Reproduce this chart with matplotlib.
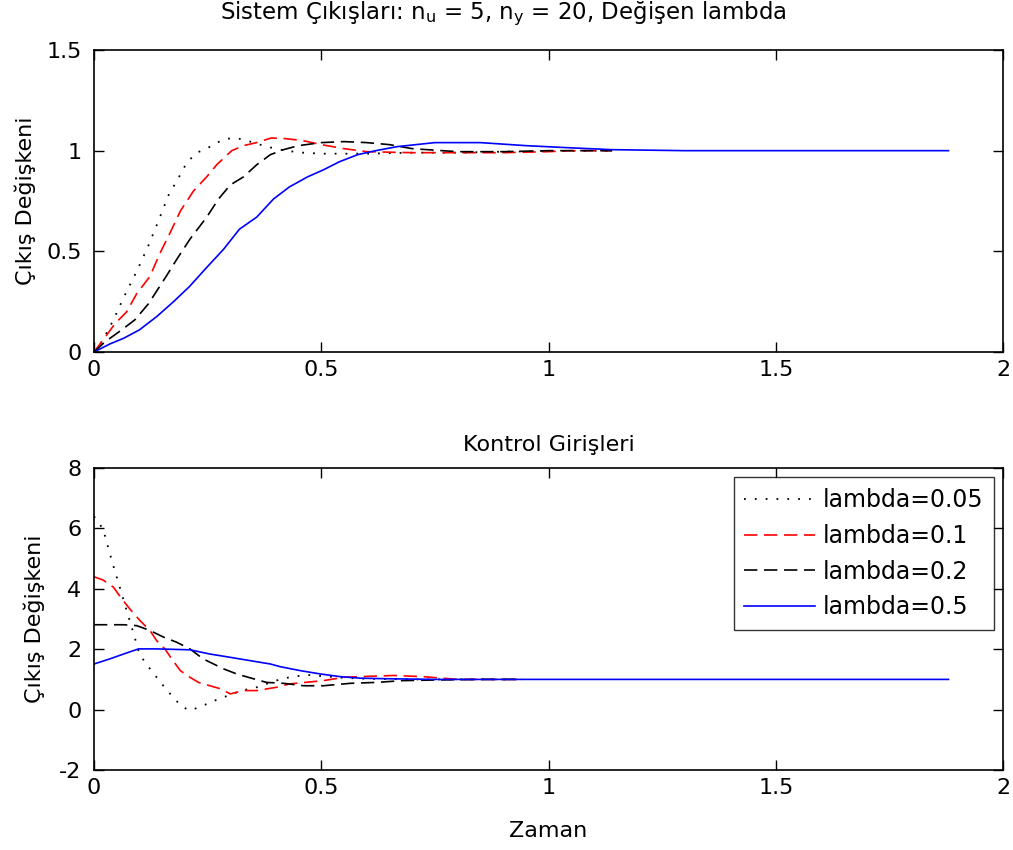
import matplotlib
matplotlib.use("Agg")
import matplotlib.pyplot as plt

plt.rcParams['font.family'] = ['DejaVu Sans']
plt.rcParams['mathtext.fontset'] = 'dejavusans'

labels = ['lambda=0.05', 'lambda=0.1', 'lambda=0.2', 'lambda=0.5']

# ---- Top: system outputs ----
t_out_005 = [0, 0.017, 0.043, 0.063, 0.098, 0.12, 0.138, 0.166, 0.18, 0.204, 0.226, 0.248, 0.27,
             0.294, 0.318, 0.342, 0.38, 0.42, 0.46, 0.5, 0.6, 0.7, 0.8, 0.9, 1.0, 1.14]
y_out_005 = [0, 0.05, 0.16, 0.26, 0.42, 0.53, 0.63, 0.79, 0.84, 0.94, 0.99, 1.01, 1.04,
             1.06, 1.06, 1.046, 1.02, 1.0, 0.99, 0.985, 0.985, 0.99, 0.99, 0.995, 0.998, 1.0]

t_out_01 = [0, 0.02, 0.046, 0.072, 0.094, 0.123, 0.145, 0.167, 0.19, 0.219, 0.248, 0.27, 0.303,
            0.329, 0.358, 0.39, 0.42, 0.46, 0.5, 0.55, 0.6, 0.7, 0.8, 0.9, 1.0, 1.05, 1.14]
y_out_01 = [0, 0.06, 0.14, 0.2, 0.29, 0.375, 0.49, 0.59, 0.70, 0.80, 0.87, 0.93, 1.0,
            1.025, 1.04, 1.063, 1.06, 1.05, 1.03, 1.01, 0.995, 0.99, 0.99, 0.99, 0.995, 1.0, 1.0]

t_out_02 = [0, 0.024, 0.061, 0.09, 0.12, 0.16, 0.182, 0.211, 0.248, 0.274, 0.3, 0.329, 0.358,
            0.388, 0.417, 0.45, 0.5, 0.55, 0.6, 0.65, 0.7, 0.8, 0.9, 1.0, 1.14]
y_out_02 = [0, 0.05, 0.11, 0.16, 0.24, 0.38, 0.46, 0.56, 0.67, 0.76, 0.83, 0.87, 0.93,
            0.98, 1.005, 1.025, 1.04, 1.045, 1.04, 1.03, 1.01, 0.995, 0.995, 1.0, 1.0]

t_out_05 = [0, 0.035, 0.065, 0.1, 0.138, 0.175, 0.21, 0.248, 0.285, 0.32, 0.358, 0.395, 0.43,
            0.47, 0.505, 0.54, 0.58, 0.62, 0.667, 0.75, 0.85, 0.95, 1.04, 1.14, 1.3, 1.5, 1.7, 1.88]
y_out_05 = [0, 0.04, 0.068, 0.11, 0.176, 0.25, 0.325, 0.42, 0.51, 0.61, 0.67, 0.76, 0.82,
            0.87, 0.905, 0.945, 0.98, 1.0, 1.02, 1.04, 1.04, 1.025, 1.015, 1.005, 1.0, 1.0, 1.0, 1.0]

# ---- Bottom: control inputs ----
t_in_005 = [0, 0.02, 0.032, 0.045, 0.059, 0.073, 0.087, 0.1, 0.115, 0.133, 0.151, 0.171, 0.193,
            0.211, 0.235, 0.259, 0.285, 0.325, 0.358, 0.4, 0.43, 0.468, 0.51, 0.55, 0.6, 0.7, 0.8, 0.94]
u_in_005 = [6.4, 5.98, 5.32, 4.63, 3.94, 3.22, 2.53, 1.84, 1.51, 1.16, 0.82, 0.46, 0.1,
            -0.03, 0.1, 0.26, 0.41, 0.63, 0.74, 0.96, 1.07, 1.15, 1.1, 1.05, 1.02, 1.0, 1.0, 1.0]

t_in_01 = [0, 0.02, 0.043, 0.061, 0.079, 0.101, 0.123, 0.138, 0.156, 0.171, 0.19, 0.211, 0.23,
           0.255, 0.278, 0.3, 0.329, 0.358, 0.402, 0.43, 0.505, 0.55, 0.6, 0.66, 0.725, 0.8, 0.94]
u_in_01 = [4.4, 4.29, 4.05, 3.67, 3.33, 2.95, 2.62, 2.28, 2.01, 1.68, 1.29, 1.07, 0.9,
           0.79, 0.69, 0.52, 0.63, 0.63, 0.74, 0.85, 0.96, 1.07, 1.1, 1.13, 1.09, 1.0, 1.0]

t_in_02 = [0, 0.065, 0.094, 0.123, 0.153, 0.182, 0.211, 0.24, 0.285, 0.314, 0.351, 0.38, 0.417,
           0.461, 0.505, 0.564, 0.62, 0.68, 0.75, 0.85, 0.94]
u_in_02 = [2.81, 2.81, 2.78, 2.62, 2.4, 2.23, 2.01, 1.68, 1.35, 1.18, 1.02, 0.9, 0.87,
           0.79, 0.79, 0.87, 0.9, 0.96, 0.98, 1.0, 1.0]

t_in_05 = [0, 0.035, 0.065, 0.098, 0.138, 0.211, 0.255, 0.3, 0.344, 0.388, 0.41, 0.454, 0.498,
           0.542, 0.586, 0.652, 0.75, 1.0, 1.5, 1.88]
u_in_05 = [1.51, 1.68, 1.84, 2.01, 2.01, 1.98, 1.84, 1.73, 1.62, 1.51, 1.42, 1.29, 1.18,
           1.09, 1.04, 1.02, 1.0, 1.0, 1.0, 1.0]

x_ticks = [0, 0.5, 1, 1.5, 2]
x_ticklabels = ['0', '0.5', '1', '1.5', '2']
y1_ticks = [0, 0.5, 1, 1.5]
y1_ticklabels = ['0', '0.5', '1', '1.5']
y2_ticks = [-2, 0, 2, 4, 6, 8]
y2_ticklabels = ['-2', '0', '2', '4', '6', '8']

styles = [
    dict(color='black', linestyle=(0, (1, 5)), linewidth=1.3),
    dict(color='#ff0000', linestyle=(0, (8, 4)), linewidth=1.2),
    dict(color='black', linestyle=(0, (8, 4)), linewidth=1.2),
    dict(color='#0000ff', linestyle='-', linewidth=1.2),
]

W, H = 1013, 850
fig = plt.figure(figsize=(W / 100, H / 100), dpi=100)
ax1 = fig.add_axes([94 / W, 1 - 352 / H, 909 / W, 302 / H])
ax2 = fig.add_axes([94 / W, 1 - 770 / H, 909 / W, 302 / H])

FS = 16

for t, y, st, lab in zip([t_out_005, t_out_01, t_out_02, t_out_05],
                         [y_out_005, y_out_01, y_out_02, y_out_05], styles, labels):
    ax1.plot(t, y, label=lab, **st)

for t, u, st, lab in zip([t_in_005, t_in_01, t_in_02, t_in_05],
                         [u_in_005, u_in_01, u_in_02, u_in_05], styles, labels):
    ax2.plot(t, u, label=lab, **st)

ax1.set_xlim(0, 2)
ax1.set_ylim(0, 1.5)
ax1.set_xticks(x_ticks)
ax1.set_xticklabels(x_ticklabels)
ax1.set_yticks(y1_ticks)
ax1.set_yticklabels(y1_ticklabels)
ax1.set_title(r'Sistem Çıkışları: n$_{\rm u}$ = 5, n$_{\rm y}$ = 20, Değişen lambda',
              fontsize=FS + 0.5, pad=22, x=(503 - 94) / 909)
ax1.set_ylabel('Çıkış Değişkeni', fontsize=FS, labelpad=7)

ax2.set_xlim(0, 2)
ax2.set_ylim(-2, 8)
ax2.set_xticks(x_ticks)
ax2.set_xticklabels(x_ticklabels)
ax2.set_yticks(y2_ticks)
ax2.set_yticklabels(y2_ticklabels)
ax2.set_title('Kontrol Girişleri', fontsize=FS, pad=12)
ax2.set_ylabel('Çıkış Değişkeni', fontsize=FS, labelpad=10)
ax2.set_xlabel('Zaman', fontsize=FS, labelpad=16)

for ax in (ax1, ax2):
    ax.tick_params(direction='in', top=True, right=True, length=7, width=1, labelsize=FS)
    ax.tick_params(axis='x', pad=6)
    ax.tick_params(axis='y', pad=9)
    for sp in ax.spines.values():
        sp.set_linewidth(1.2)

leg = ax2.legend(loc='upper right', fontsize=FS + 1, frameon=True, fancybox=False,
                 edgecolor='black', handlelength=3.0, handletextpad=0.3,
                 borderpad=0.45, labelspacing=0.5, borderaxespad=0.4)
leg.get_frame().set_linewidth(1.0)

fig.savefig('out.png', dpi=100)
